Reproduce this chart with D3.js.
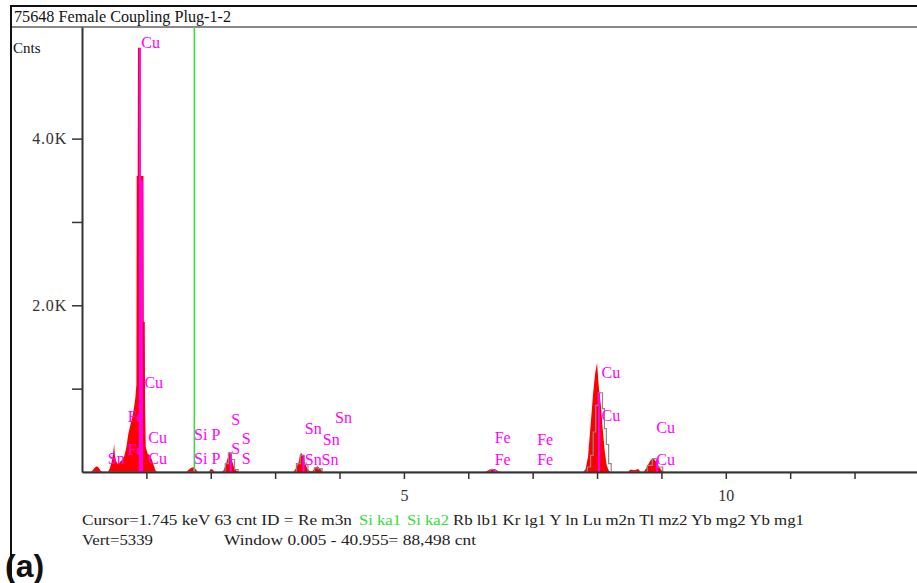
<!DOCTYPE html>
<html>
<head>
<meta charset="utf-8">
<script src="https://cdn.jsdelivr.net/npm/d3@7"></script>
<style>
body { margin: 0; background: #fff; }
svg text { font-family: "Liberation Serif", "Times New Roman", serif; }
</style>
</head>
<body>
<svg id="chart" width="917" height="583"></svg>
<script>
// plot geometry
var w = 917, h = 583;
var plot = { left: 82, right: 917, top: 27, bottom: 472 };
var kevMax = 12.97;
var vertCnt = 5339;

// measured spectrum (red fill): energy in keV and counts
var specKeV = [0.00, 0.14, 0.17, 0.20, 0.23, 0.26, 0.29, 0.32, 0.40, 0.43, 0.46, 0.48, 0.50, 0.51, 0.53, 0.56,
    0.60, 0.63, 0.66, 0.69, 0.72, 0.75, 0.78, 0.81, 0.83, 0.845, 0.85, 0.865, 0.87, 0.89, 0.895, 0.955, 0.96,
    0.975, 0.98, 0.99, 1.02, 1.05, 1.08, 1.11, 1.14, 1.17,
    1.62, 1.66, 1.70, 1.74, 1.77, 1.80, 1.97, 2.00, 2.03, 2.06,
    2.17, 2.20, 2.23, 2.26, 2.29, 2.31, 2.33, 2.36, 2.39, 2.42, 2.45,
    3.28, 3.32, 3.36, 3.40, 3.43, 3.46, 3.50, 3.54, 3.58, 3.62, 3.66, 3.70, 3.74,
    6.26, 6.32, 6.38, 6.44, 6.50,
    7.78, 7.82, 7.86, 7.90, 7.94, 7.97, 8.00, 8.03, 8.06, 8.09, 8.12, 8.15, 8.18, 8.21, 8.24,
    8.48, 8.52, 8.58, 8.64, 8.68, 8.72, 8.76, 8.80, 8.84, 8.88, 8.92, 8.96, 9.00, 9.04, 12.97];
var specCnt = [0, 0, 25, 55, 70, 50, 15, 0, 0, 40, 120, 200, 340, 200, 130, 90,
    130, 150, 200, 300, 460, 560, 650, 780, 900, 1050, 3550, 3550, 5090, 5090, 3550, 3550, 1800,
    1800, 800, 300, 220, 200, 160, 90, 20, 0,
    0, 30, 50, 60, 30, 0, 0, 35, 30, 0,
    0, 20, 80, 160, 240, 220, 140, 60, 20, 10, 0,
    0, 40, 110, 230, 200, 120, 40, 10, 10, 50, 70, 40, 0,
    0, 25, 40, 20, 0,
    0, 30, 180, 560, 950, 1180, 1310, 1000, 800, 500, 250, 80, 20, 0, 0,
    0, 30, 20, 35, 0, 0, 40, 100, 150, 160, 120, 70, 20, 0, 0];

// fitted / reference outline (grey)
var fitKeV = [0, 2.20, 2.25, 2.30, 2.34, 2.40, 2.45, 3.30, 3.36, 3.42, 3.48, 3.54, 3.58, 3.64, 3.70, 3.76,
    6.30, 6.38, 6.46, 7.82, 7.88, 7.92, 7.96, 8.00, 8.04, 8.07, 8.10, 8.13, 8.16, 8.20, 8.24,
    8.74, 8.82, 8.90, 8.98, 9.06, 12.97];
var fitCnt = [0, 0, 100, 230, 150, 30, 0, 0, 100, 200, 90, 0, 0, 50, 40, 0,
    0, 30, 0, 0, 60, 200, 480, 800, 950, 950, 760, 520, 330, 100, 0,
    0, 80, 160, 60, 0, 0];

// KLM marker lines
var markerKeV = [0.90, 0.93, 1.74, 2.31, 3.44, 6.40, 8.03, 8.93];
var markerCnt = [5090, 3500, 45, 220, 200, 35, 950, 150];

// element labels
var labelText = ["Cu", "Cu", "Fe", "Cu", "Sn", "Fe", "Cu", "Si", "Si", "P", "P", "S", "S", "S", "S",
    "Sn", "Sn", "Sn", "Sn", "Sn", "Fe", "Fe", "Fe", "Fe", "Cu", "Cu", "Cu", "Cu"];
var labelKeV = [0.92, 0.97, 0.71, 1.03, 0.40, 0.71, 1.03, 1.74, 1.74, 2.01, 2.01, 2.32, 2.32, 2.48, 2.48,
    3.46, 3.46, 3.93, 3.74, 3.72, 6.41, 6.41, 7.07, 7.07, 8.07, 8.07, 8.92, 8.92];
var labelCnt = [5088, 1008, 600, 348, 96, 204, 96, 384, 96, 384, 96, 564, 216, 336, 96,
    456, 84, 588, 324, 84, 348, 84, 324, 84, 1128, 612, 468, 84];

var xTicks = [1, 2, 3, 4, 5, 6, 7, 8, 9, 10, 11, 12];
var yTicks = [1000, 2000, 3000, 4000];
var cursorKeV = 1.745;

var svg = d3.select("#chart");

var x = d3.scaleLinear().domain([0, kevMax]).range([plot.left, plot.right]);
var y = d3.scaleLinear().domain([0, vertCnt]).range([plot.bottom, plot.top]);

// frame and title bar
svg.append("line").attr("x1", 11).attr("x2", w).attr("y1", 6).attr("y2", 6)
    .attr("stroke", "#111").attr("stroke-width", 2);
svg.append("line").attr("x1", 11).attr("x2", w).attr("y1", 27).attr("y2", 27)
    .attr("stroke", "#888").attr("stroke-width", 2);
svg.append("line").attr("x1", 11).attr("x2", 11).attr("y1", 5).attr("y2", h)
    .attr("stroke", "#111").attr("stroke-width", 2);

svg.append("text").attr("x", 14).attr("y", 22)
    .attr("font-size", 16).attr("fill", "#111")
    .attr("textLength", 217).attr("lengthAdjust", "spacingAndGlyphs")
    .text("75648 Female Coupling Plug-1-2");

svg.append("text").attr("x", 13).attr("y", 53)
    .attr("font-size", 15).attr("fill", "#111")
    .text("Cnts");

// spectrum
var spec = specKeV.map(function(e, i) { return [e, specCnt[i]]; });
var fit = fitKeV.map(function(e, i) { return [e, fitCnt[i]]; });

var area = d3.area()
    .x(function(d) { return x(d[0]); })
    .y0(plot.bottom)
    .y1(function(d) { return y(d[1]); });

svg.append("path").datum(spec)
    .attr("d", area)
    .attr("fill", "#ff0000");

var line = d3.line()
    .x(function(d) { return x(d[0]); })
    .y(function(d) { return y(d[1]); })
    .curve(d3.curveStep);

svg.append("path").datum(fit)
    .attr("d", line)
    .attr("fill", "none")
    .attr("stroke", "#8a8a8a")
    .attr("stroke-width", 1.2);

// marker lines
svg.selectAll(".marker")
    .data(markerKeV)
    .enter()
    .append("line")
    .attr("class", "marker")
    .attr("x1", function(d) { return x(d); })
    .attr("x2", function(d) { return x(d); })
    .attr("y1", plot.bottom)
    .attr("y2", function(d, i) { return y(markerCnt[i]); })
    .attr("stroke", "#ff00ff")
    .attr("stroke-width", 2);

// cursor
svg.append("line")
    .attr("x1", x(cursorKeV)).attr("x2", x(cursorKeV))
    .attr("y1", plot.top).attr("y2", plot.bottom)
    .attr("stroke", "#33e033").attr("stroke-width", 1.5);

// element labels
svg.selectAll(".label")
    .data(labelText)
    .enter()
    .append("text")
    .attr("class", "label")
    .attr("x", function(d, i) { return x(labelKeV[i]); })
    .attr("y", function(d, i) { return y(labelCnt[i]); })
    .attr("font-size", 16)
    .attr("fill", "#ff00ff")
    .text(function(d) { return d; });

// axes
var yAxis = d3.axisLeft(y)
    .tickValues(yTicks)
    .tickSize(10)
    .tickSizeOuter(0)
    .tickPadding(5)
    .tickFormat(function(d) { return d % 2000 === 0 ? (d / 1000).toFixed(1) + "K" : ""; });

var gy = svg.append("g")
    .attr("transform", "translate(" + plot.left + ",0)")
    .call(yAxis);
gy.select(".domain").attr("stroke", "#333").attr("stroke-width", 2);
gy.selectAll(".tick line").attr("stroke", "#333").attr("stroke-width", 1.5);
gy.selectAll(".tick text")
    .style("font-family", "'Liberation Serif', serif")
    .style("letter-spacing", "0.8px")
    .attr("font-size", 16).attr("fill", "#333");

var xAxis = d3.axisBottom(x)
    .tickValues(xTicks)
    .tickSize(7)
    .tickSizeOuter(0)
    .tickPadding(11)
    .tickFormat(function(d) { return d % 5 === 0 ? d : ""; });

var gx = svg.append("g")
    .attr("transform", "translate(0," + plot.bottom + ")")
    .call(xAxis);
gx.select(".domain").attr("stroke", "#333").attr("stroke-width", 2);
gx.selectAll(".tick line").attr("stroke", "#333").attr("stroke-width", 1.5);
gx.selectAll(".tick text")
    .style("font-family", "'Liberation Serif', serif")
    .attr("font-size", 16).attr("fill", "#333");

// status lines
function status(txt, x0, len, yy, col) {
    svg.append("text").attr("x", x0).attr("y", yy)
        .attr("font-size", 15.5).attr("fill", col)
        .attr("textLength", len).attr("lengthAdjust", "spacingAndGlyphs")
        .text(txt);
}
status("Cursor=1.745 keV   63 cnt  ID = Re m3n", 82, 270, 525, "#222");
status("Si ka1", 359, 42, 525, "#33dd33");
status("Si ka2", 407, 42, 525, "#33dd33");
status("Rb lb1  Kr lg1  Y ln   Lu m2n  Tl mz2  Yb mg2  Yb mg1", 453, 351, 525, "#222");
status("Vert=5339", 82, 71, 545, "#222");
status("Window 0.005 - 40.955=   88,498 cnt", 224, 252, 545, "#222");

svg.append("text").attr("x", 5).attr("y", 577)
    .style("font-family", "'Liberation Sans', Arial, sans-serif")
    .style("font-weight", "bold")
    .attr("font-size", 32).attr("fill", "#111")
    .text("(a)");
</script>
</body>
</html>
